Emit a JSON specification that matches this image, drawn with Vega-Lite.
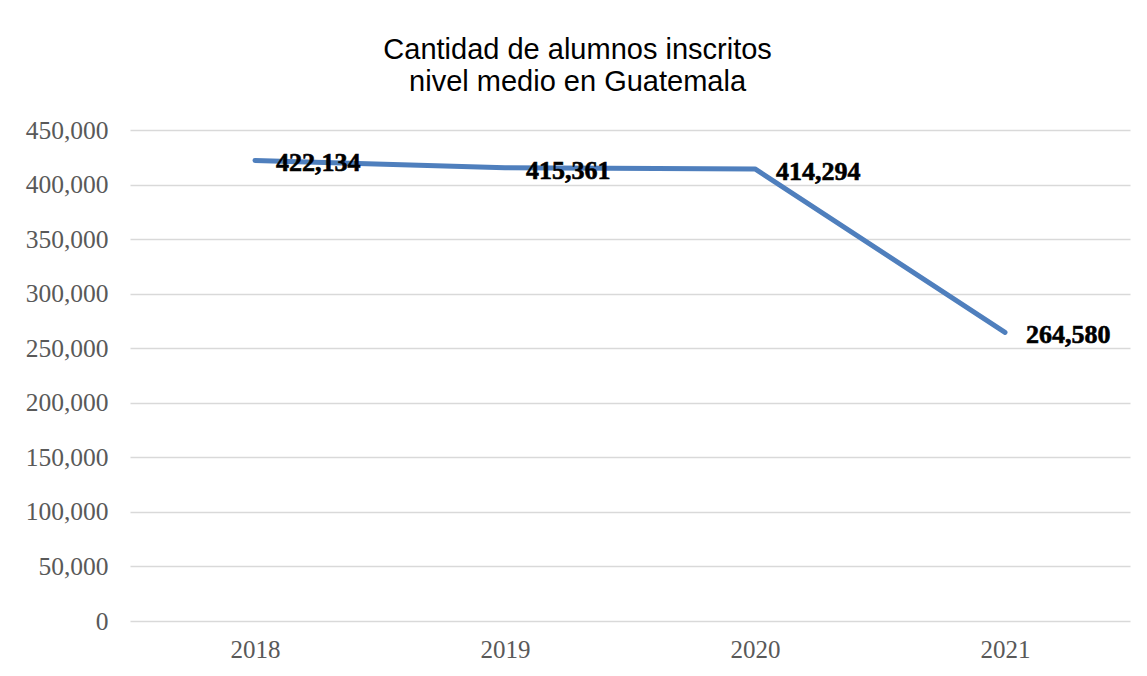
{
  "$schema": "https://vega.github.io/schema/vega-lite/v6.json",
  "autosize": "none",
  "width": 1000,
  "height": 491,
  "padding": {"left": 130, "top": 130, "right": 17, "bottom": 55},
  "background": "white",
  "title": {
    "text": ["Cantidad de alumnos inscritos", "nivel medio en Guatemala"],
    "font": "Liberation Sans",
    "fontSize": 29,
    "fontWeight": "normal",
    "color": "#000000",
    "anchor": "middle",
    "frame": "bounds",
    "lineHeight": 32,
    "offset": 21
  },
  "data": {
    "values": [
      {"year": "2018", "value": 422134},
      {"year": "2019", "value": 415361},
      {"year": "2020", "value": 414294},
      {"year": "2021", "value": 264580}
    ]
  },
  "encoding": {
    "x": {
      "field": "year",
      "type": "ordinal",
      "scale": {"type": "point", "padding": 0.5},
      "axis": {
        "title": null,
        "labelAngle": 0,
        "ticks": false,
        "domain": false,
        "labelFont": "Liberation Serif",
        "labelFontSize": 25,
        "labelColor": "#595959",
        "labelPadding": 16,
        "grid": false
      }
    },
    "y": {
      "field": "value",
      "type": "quantitative",
      "scale": {"domain": [0, 450000], "nice": false},
      "axis": {
        "title": null,
        "values": [0, 50000, 100000, 150000, 200000, 250000, 300000, 350000, 400000, 450000],
        "format": ",d",
        "ticks": false,
        "domain": false,
        "labelFont": "Liberation Serif",
        "labelFontSize": 25.5,
        "labelColor": "#595959",
        "labelPadding": 22,
        "gridColor": "#d9d9d9",
        "gridWidth": 1.5
      }
    }
  },
  "layer": [
    {
      "mark": {"type": "line", "color": "#4f7fbd", "strokeWidth": 5, "strokeCap": "round", "strokeJoin": "round"}
    },
    {
      "mark": {
        "type": "text",
        "align": "left",
        "baseline": "middle",
        "dx": 21,
        "dy": 3,
        "font": "Liberation Serif",
        "fontWeight": "bold",
        "fontSize": 26,
        "color": "#000000",
        "stroke": "#000000",
        "strokeWidth": 0.6
      },
      "encoding": {
        "text": {"field": "value", "type": "quantitative", "format": ",d"}
      }
    }
  ],
  "config": {
    "view": {"stroke": null}
  }
}
